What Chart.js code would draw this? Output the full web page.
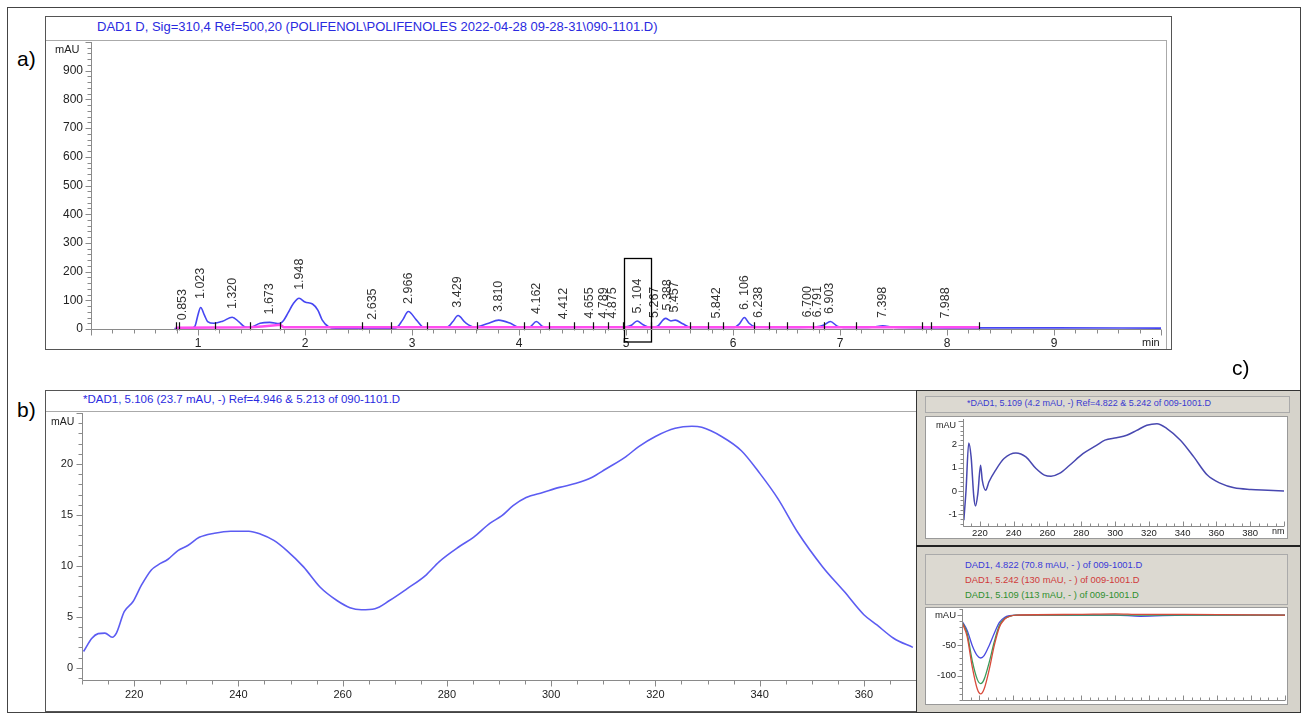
<!DOCTYPE html>
<html>
<head>
<meta charset="utf-8">
<script src="https://cdn.jsdelivr.net/npm/chart.js@4.4.1/dist/chart.umd.min.js"></script>
<style>
  body { margin: 0; background: #fff; font-family: "Liberation Sans", Arial, sans-serif; }
  #fig { position: relative; width: 1306px; height: 716px; overflow: hidden; }
  .abs { position: absolute; }
  .lbl { position: absolute; font-size: 21px; color: #000; }
  .ttl { position: absolute; white-space: nowrap; color: #2a2ae0; }
  canvas { position: absolute; }
</style>
</head>
<body>
<div id="fig">
  <div class="abs" style="left:7px;top:7px;width:1292px;height:704px;border:1px solid #444"></div>

  <!-- a) -->
  <div class="lbl" style="left:17px;top:47px">a)</div>
  <div class="abs" style="left:45px;top:16px;width:1125px;height:332px;border:1px solid #555;background:#fff"></div>
  <div class="abs" style="left:46px;top:40px;width:1120px;height:1px;background:#aaa"></div>
  <div class="abs" style="left:1166px;top:40px;width:1px;height:309px;background:#aaa"></div>
  <div class="ttl" style="left:97px;top:19px;font-size:13px">DAD1 D, Sig=310,4 Ref=500,20 (POLIFENOL\POLIFENOLES 2022-04-28 09-28-31\090-1101.D)</div>
  <canvas id="chA" width="1120" height="310" style="left:46px;top:40px"></canvas>
  <div class="abs" style="left:55px;top:43px;font-size:11px;color:#222">mAU</div>
  <div class="abs" style="left:1142px;top:336px;font-size:11px;color:#222">min</div>

  <!-- b) -->
  <div class="lbl" style="left:17px;top:398px">b)</div>
  <div class="abs" style="left:45px;top:390px;width:872px;height:320px;border:1px solid #555;background:#fff"></div>
  <div class="abs" style="left:46px;top:411px;width:871px;height:1px;background:#aaa"></div>
  <div class="ttl" style="left:83px;top:393px;font-size:11.5px">*DAD1, 5.106 (23.7 mAU, -) Ref=4.946 &amp; 5.213 of 090-1101.D</div>
  <canvas id="chB" width="871" height="298" style="left:46px;top:412px"></canvas>
  <div class="abs" style="left:51px;top:415px;font-size:10.5px;color:#222">mAU</div>

  <!-- c) -->
  <div class="lbl" style="left:1232px;top:356px">c)</div>
  <div class="abs" style="left:916px;top:390px;width:383px;height:321px;border:1px solid #333;background:#d6d3cb"></div>
  <div class="abs" style="left:916px;top:545px;width:384px;height:2px;background:#222"></div>
  <div class="abs" style="left:925px;top:396px;width:363px;height:15px;border:1px solid #aaa;background:#dcd9d1"></div>
  <div class="ttl" style="left:967px;top:398px;font-size:9px;color:#3a3ad0">*DAD1, 5.109 (4.2 mAU, -) Ref=4.822 &amp; 5.242 of 009-1001.D</div>
  <div class="abs" style="left:925px;top:416px;width:361px;height:121px;border:1px solid #999;background:#fff"></div>
  <canvas id="chC1" width="361" height="122" style="left:926px;top:416px"></canvas>
  <div class="abs" style="left:936px;top:420px;font-size:9px;color:#222">mAU</div>
  <div class="abs" style="left:1272px;top:526px;font-size:9px;color:#222">nm</div>

  <div class="abs" style="left:925px;top:554px;width:361px;height:49px;border:1px solid #aaa;background:#dcd9d1"></div>
  <div class="ttl" style="left:965px;top:559px;font-size:9.4px;color:#3a3ad8">DAD1, 4.822 (70.8 mAU, - ) of 009-1001.D</div>
  <div class="ttl" style="left:965px;top:574px;font-size:9.4px;color:#d03a3a">DAD1, 5.242 (130 mAU, - ) of 009-1001.D</div>
  <div class="ttl" style="left:965px;top:589px;font-size:9.4px;color:#2f8f2f">DAD1, 5.109 (113 mAU, - ) of 009-1001.D</div>
  <div class="abs" style="left:925px;top:607px;width:361px;height:96px;border:1px solid #999;background:#fff"></div>
  <canvas id="chC2" width="361" height="97" style="left:926px;top:607px"></canvas>
</div>

<script>
Chart.defaults.font.family = '"Liberation Sans", Arial, sans-serif';
Chart.defaults.color = '#222';
Chart.defaults.animation = false;

// --- panel a: chromatogram, 310 nm ---
const traceTime = [0.78, 0.85, 0.93, 0.97, 1.0, 1.025, 1.06, 1.09, 1.15, 1.23, 1.32, 1.38, 1.44, 1.49,
  1.58, 1.67, 1.76, 1.8, 1.84, 1.89, 1.945, 2.0, 2.07, 2.12, 2.16, 2.22, 2.29, 2.6, 2.85, 2.91, 2.966,
  3.04, 3.11, 3.33, 3.38, 3.43, 3.5, 3.58, 3.7, 3.81, 3.92, 4.0, 4.1, 4.162, 4.22, 4.3, 4.6, 5.0, 5.05,
  5.104, 5.16, 5.22, 5.29, 5.37, 5.42, 5.46, 5.53, 5.61, 6.0, 6.06, 6.106, 6.15, 6.2, 6.4, 6.78, 6.85,
  6.91, 6.98, 7.1, 7.3, 7.4, 7.5, 8.0, 8.3, 9.0, 10.0];
const traceSignal = [2, 2, 3, 9, 50, 75, 48, 26, 20, 27, 41, 26, 7, 6,
  20, 23, 19, 30, 55, 88, 107, 94, 87, 66, 32, 8, 3, 3, 4, 30, 61,
  32, 6, 7, 25, 47, 22, 7, 18, 31, 20, 6, 7, 26, 9, 5, 6, 8, 13,
  28, 15, 6, 9, 37, 28, 31, 18, 5, 5, 18, 40, 20, 9, 5, 8, 14,
  26, 9, 5, 6, 11, 6, 4, 4, 4, 3];
const baseTime = [0.79, 1.49, 1.6, 1.77, 1.8, 8.3];
const baseSignal = [4, 6, 9, 15, 6, 6];

const peakLabels = ['0.853', '1.023', '1.320', '1.673', '1.948', '2.635', '2.966', '3.429', '3.810', '4.162',
  '4.412', '4.655', '4.789', '4.875', '5. 104', '5.267', '5.388', '5.457', '5.842', '6. 106', '6.238',
  '6.700', '6.791', '6.903', '7.398', '7.988'];
const peakTimes = [0.853, 1.023, 1.32, 1.673, 1.948, 2.635, 2.966, 3.429, 3.81, 4.162,
  4.412, 4.655, 4.789, 4.875, 5.104, 5.267, 5.388, 5.457, 5.842, 6.106, 6.238,
  6.7, 6.791, 6.903, 7.398, 7.988];
const peakHeights = [6, 80, 45, 26, 112, 8, 63, 50, 35, 28,
  10, 12, 12, 12, 30, 14, 40, 33, 12, 42, 14,
  16, 16, 28, 14, 12];
const markTimes = [0.79, 0.82, 1.16, 1.49, 1.77, 2.53, 2.8, 3.14, 3.61, 4.05, 4.28, 4.51, 4.69, 4.83,
  4.97, 5.23, 5.6, 5.77, 5.91, 6.2, 6.34, 6.5, 6.75, 6.85, 7.15, 7.77, 7.85, 8.3];
const boxTimes = [4.98, 5.23];
const boxTop = 248;
const aTimeTicks = [1, 2, 3, 4, 5, 6, 7, 8, 9];
const aSignalTicks = [0, 100, 200, 300, 400, 500, 600, 700, 800, 900];

// --- panel b: spectrum of peak 5.106 ---
const specNm = [210.3, 211.9, 213.1, 214.4, 215.8, 216.6, 218.1, 219.8, 221.4, 223.3, 224.6, 226.5, 228.4,
  230.3, 232.5, 235.4, 238.5, 242.0, 244.3, 246.8, 249.3, 252.5, 255.7, 258.9, 261.4, 263.6, 266.2,
  269.0, 272.2, 276.0, 278.5, 282.4, 285.1, 288.3, 290.5, 292.7, 295.2, 298.4, 301.6, 304.8, 307.9,
  310.5, 314.3, 316.8, 320.0, 323.8, 327.0, 328.9, 332.7, 336.5, 340.0, 343.5, 347.3, 352.1, 356.2,
  360.0, 362.5, 365.7, 369.4];
const specMau = [1.6, 2.9, 3.35, 3.4, 3.0, 3.4, 5.5, 6.5, 8.1, 9.6, 10.1, 10.65, 11.5,
  12.0, 12.8, 13.2, 13.4, 13.4, 13.1, 12.5, 11.5, 9.9, 7.9, 6.6, 5.9, 5.7, 5.8,
  6.6, 7.7, 9.1, 10.4, 11.9, 12.8, 14.2, 14.9, 15.9, 16.7, 17.2, 17.7, 18.1, 18.7,
  19.5, 20.7, 21.7, 22.7, 23.5, 23.7, 23.6, 22.7, 21.3, 19.1, 16.6, 13.3, 9.9, 7.5,
  5.2, 4.2, 2.9, 2.0];
const bNmTicks = [220, 240, 260, 280, 300, 320, 340, 360];
const bMauTicks = [0, 5, 10, 15, 20];

// --- panel c (top): spectrum of peak 5.109 ---
const smallNm = [210.5, 211.8, 213.4, 214.8, 216.4, 217.4, 218.8, 220.4, 221.4, 223.4, 225.4, 229.3, 234.3,
  241.3, 247.2, 253.2, 258.2, 262.1, 267.1, 273.1, 281.0, 289.0, 294.0, 300.9, 306.9, 312.8, 318.8,
  324.8, 330.7, 338.7, 346.6, 354.6, 362.5, 370.5, 380.4, 390.4, 400.0];
const smallMau = [-1.25, 0.04, 2.07, 1.47, -0.24, -0.64, -0.1, 1.11, 0.47, 0.04, 0.4, 0.9, 1.4,
  1.64, 1.47, 0.97, 0.69, 0.64, 0.76, 1.11, 1.61, 1.97, 2.19, 2.29, 2.4, 2.61, 2.83,
  2.9, 2.69, 2.19, 1.47, 0.69, 0.33, 0.14, 0.07, 0.04, 0.01];
const cNmTicks = [220, 240, 260, 280, 300, 320, 340, 360, 380];
const cMauTicks = [-1, 0, 1, 2];

// --- panel c (bottom): overlay of three spectra ---
const overlayNm = [210, 213, 216, 219, 221, 223, 226, 229, 232, 235, 238, 242, 276, 300, 315, 341, 400];
const blueMau = [-10, -25, -50, -67, -70.8, -67, -50, -30, -12, -4, -1, 0, 0, 0, -2, 0, 0];
const redMau = [-12, -35, -85, -122, -130, -122, -90, -50, -20, -7, -2, 0, 1, 2, 1, 1, 0];
const greenMau = [-11, -30, -75, -106, -113, -106, -78, -44, -17, -6, -2, 0, 0, 0, 0, 0, 0];
const overlayTicks = [-100, -50, 0];

function pts(xs, ys) { return xs.map((x, i) => ({ x: x, y: ys[i] })); }

// axis lines, major and minor ticks drawn from the scales
const axesPlugin = {
  id: 'axes',
  afterDraw(chart, args, o) {
    if (!o || !o.on) return;
    const ctx = chart.ctx, a = chart.chartArea, x = chart.scales.x, y = chart.scales.y;
    ctx.save();
    ctx.strokeStyle = o.color;
    ctx.lineWidth = 1;
    ctx.beginPath();
    const L = Math.round(a.left) + 0.5, B = Math.round(a.bottom) + 0.5;
    ctx.moveTo(L, a.top); ctx.lineTo(L, B); ctx.lineTo(a.right, B);
    for (let i = Math.ceil(x.min / o.xMinor - 1e-9); i * o.xMinor <= x.max + 1e-9; i++) {
      const v = i * o.xMinor;
      const major = Math.abs(v / o.xMajor - Math.round(v / o.xMajor)) < 1e-6;
      const len = major ? o.majorLen : o.minorLen;
      const px = Math.round(x.getPixelForValue(v)) + 0.5;
      ctx.moveTo(px, B); ctx.lineTo(px, B + (o.xIn ? -len : len));
    }
    for (let i = Math.ceil(y.min / o.yMinor - 1e-9); i * o.yMinor <= y.max + 1e-9; i++) {
      const v = i * o.yMinor;
      const major = Math.abs(v / o.yMajor - Math.round(v / o.yMajor)) < 1e-6;
      const len = major ? o.majorLen : o.minorLen;
      const py = Math.round(y.getPixelForValue(v)) + 0.5;
      ctx.moveTo(L, py); ctx.lineTo(L - len, py);
    }
    ctx.stroke();
    ctx.restore();
  }
};

// peak labels, integration marks and the highlight box of panel a
const peaksPlugin = {
  id: 'peaks',
  afterDatasetsDraw(chart, args, o) {
    if (!o || !o.on) return;
    const ctx = chart.ctx, x = chart.scales.x, y = chart.scales.y, a = chart.chartArea;
    ctx.save();
    ctx.strokeStyle = '#111';
    ctx.lineWidth = 1.2;
    ctx.beginPath();
    markTimes.forEach(t => {
      const px = Math.round(x.getPixelForValue(t)) + 0.5;
      const py = y.getPixelForValue(6);
      ctx.moveTo(px, py - 5); ctx.lineTo(px, py + 3);
    });
    ctx.stroke();
    ctx.fillStyle = '#333';
    ctx.font = '12.5px "Liberation Sans", Arial, sans-serif';
    ctx.textBaseline = 'middle';
    ctx.textAlign = 'left';
    peakTimes.forEach((t, i) => {
      ctx.save();
      ctx.translate(x.getPixelForValue(t), y.getPixelForValue(peakHeights[i]) - 7);
      ctx.rotate(-Math.PI / 2);
      ctx.fillText(peakLabels[i], 0, 0);
      ctx.restore();
    });
    const x0 = Math.round(x.getPixelForValue(boxTimes[0])) + 0.5;
    const x1 = Math.round(x.getPixelForValue(boxTimes[1])) + 0.5;
    const yt = Math.round(y.getPixelForValue(boxTop)) + 0.5;
    ctx.strokeStyle = '#000';
    ctx.lineWidth = 1.3;
    ctx.strokeRect(x0, yt, x1 - x0, a.bottom + 13 - yt);
    ctx.restore();
  }
};

// linear axis with fixed size, fixed tick list, no library grid
function numAxis(min, max, tickList, size, tickOpts) {
  return {
    type: 'linear', min: min, max: max,
    grid: { display: false, drawTicks: false },
    border: { display: false },
    ticks: Object.assign({ maxRotation: 0, autoSkip: false }, tickOpts),
    afterBuildTicks: s => { s.ticks = tickList.map(v => ({ value: v })); },
    afterFit: s => {
      if (s.isHorizontal()) s.height = size; else s.width = size;
      s.paddingTop = 0; s.paddingBottom = 0; s.paddingLeft = 0; s.paddingRight = 0;
    }
  };
}

function baseOptions(pad, axes, scales) {
  return {
    responsive: false,
    layout: { padding: pad },
    plugins: { legend: { display: false }, tooltip: { enabled: false }, axes: axes, peaks: { on: false } },
    scales: scales
  };
}

// panel a
const optA = baseOptions({ top: 2, right: 5 },
  { on: true, color: '#8a8a8a', xMinor: 0.2, xMajor: 1, yMinor: 20, yMajor: 100, majorLen: 6, minorLen: 4 },
  {
    x: numAxis(0, 10, aTimeTicks, 21, { padding: 7, font: { size: 12 } }),
    y: numAxis(0, 1000, aSignalTicks, 45, { padding: 8, font: { size: 12 } })
  });
optA.plugins.peaks = { on: true };
new Chart(document.getElementById('chA'), {
  type: 'line',
  data: {
    datasets: [
      { data: pts(baseTime, baseSignal), borderColor: '#ff4cf0', borderWidth: 2.5, pointRadius: 0, tension: 0 },
      { data: pts(traceTime, traceSignal), borderColor: '#4646f2', borderWidth: 1.6, pointRadius: 0,
        cubicInterpolationMode: 'monotone' }
    ]
  },
  options: optA,
  plugins: [axesPlugin, peaksPlugin]
});

// panel b
new Chart(document.getElementById('chB'), {
  type: 'line',
  data: { datasets: [{ data: pts(specNm, specMau), borderColor: '#5c5cf2', borderWidth: 1.6, pointRadius: 0,
    cubicInterpolationMode: 'monotone' }] },
  options: baseOptions({ top: 1, right: 1 },
    { on: true, color: '#8a8a8a', xMinor: 5, xMajor: 20, yMinor: 1, yMajor: 5, majorLen: 6, minorLen: 4 },
    {
      x: numAxis(210, 370, bNmTicks, 30, { padding: 8, font: { size: 11 } }),
      y: numAxis(-1.2, 25, bMauTicks, 36, { padding: 9, font: { size: 11 } })
    }),
  plugins: [axesPlugin]
});

// panel c, top
new Chart(document.getElementById('chC1'), {
  type: 'line',
  data: { datasets: [{ data: pts(smallNm, smallMau), borderColor: '#4848b0', borderWidth: 1.5, pointRadius: 0,
    cubicInterpolationMode: 'monotone' }] },
  options: baseOptions({ top: 3, right: 3 },
    { on: true, color: '#8a8a8a', xMinor: 5, xMajor: 20, yMinor: 0.2, yMajor: 1, majorLen: 5, minorLen: 3, xIn: true },
    {
      x: numAxis(210, 400, cNmTicks, 12, { padding: 2, font: { size: 9.5 } }),
      y: numAxis(-1.5, 3.1, cMauTicks, 37, { padding: 6, font: { size: 9.5 } })
    }),
  plugins: [axesPlugin]
});

// panel c, bottom
new Chart(document.getElementById('chC2'), {
  type: 'line',
  data: { datasets: [
    { data: pts(overlayNm, redMau), borderColor: '#d84a3a', borderWidth: 1.3, pointRadius: 0, cubicInterpolationMode: 'monotone' },
    { data: pts(overlayNm, greenMau), borderColor: '#3a9a5a', borderWidth: 1.3, pointRadius: 0, cubicInterpolationMode: 'monotone' },
    { data: pts(overlayNm, blueMau), borderColor: '#4a4ae0', borderWidth: 1.3, pointRadius: 0, cubicInterpolationMode: 'monotone' }
  ] },
  options: baseOptions({ top: 2, right: 2 },
    { on: true, color: '#8a8a8a', xMinor: 5, xMajor: 20, yMinor: 10, yMajor: 50, majorLen: 5, minorLen: 3, xIn: true },
    {
      x: numAxis(210, 400, [], 4, { display: false }),
      y: numAxis(-140, 10, overlayTicks, 36, { padding: 6, font: { size: 9.5 },
        callback: v => v === 0 ? 'mAU' : v })
    }),
  plugins: [axesPlugin]
});
</script>
</body>
</html>
